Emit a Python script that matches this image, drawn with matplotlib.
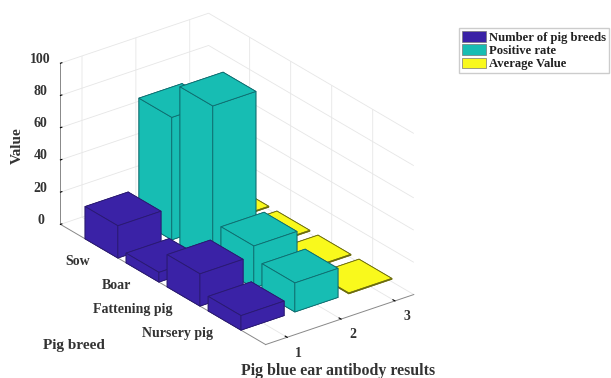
import numpy as np
import matplotlib
matplotlib.use("Agg")
import matplotlib.pyplot as plt
from matplotlib.patches import Patch

breeds = ["Sow", "Boar", "Fattening pig", "Nursery pig"]
series_names = ["Number of pig breeds", "Positive rate", "Average Value"]
pig_breeds = [20, 6, 20, 9]
positive_rate = [76, 98, 26, 18]
average_value = [0.5, 0.5, 0.5, 0.5]
z_ticks = [0, 20, 40, 60, 80, 100]
colors = ["#3A22A6", "#17BDB3", "#F9F91C"]
edges = ["#2a1a70", "#0f6b6e", "#6b6b10"]

plt.rcParams["font.family"] = ["Liberation Serif", "DejaVu Serif"]
plt.rcParams["font.weight"] = "bold"

W, H = 611, 378
fig = plt.figure(figsize=(W / 100, H / 100), dpi=100)

# axes square centred on the box centre in the picture
S = 378
cx, cy = 232, 184
ax = fig.add_axes([(cx - S / 2) / W, 1 - (cy + S / 2) / H, S / W, S / H],
                  projection="3d", proj_type="ortho", computed_zorder=False)
ax.view_init(elev=26.4, azim=-127.2)
ax.set_box_aspect((185.8, 339, 179.7), zoom=1.096)

width = 0.8
order = 0
columns = [pig_breeds, positive_rate, average_value]
for col in [2, 1, 0]:
    for row, val in enumerate(columns[col]):
        ax.bar3d(col + 1 - width / 2, row + 1 - width / 2, 0, width, width, val,
                 color=colors[col], edgecolor=edges[col], linewidth=0.6,
                 shade=False, zorder=order)
        order += 1

ax.set_xlim(0.6, 3.35, view_margin=0)
ax.set_ylim(5, 0, view_margin=0)
ax.set_zlim(0, 100, view_margin=0)
ax.set_xticks([1, 2, 3])
ax.set_yticks([1, 2, 3, 4])
ax.set_zticks(z_ticks)
ax.set_yticklabels(breeds, ha="right", va="baseline")
ax.set_xticklabels(["1", "2", "3"], va="center")
ax.set_zticklabels([str(v) for v in z_ticks], va="center")
ax.tick_params(axis="both", labelsize=10, labelcolor="#333333", pad=0)
ax.tick_params(axis="y", pad=3)

for axis in [ax.xaxis, ax.yaxis, ax.zaxis]:
    axis.set_pane_color((1, 1, 1, 0))
    axis.pane.set_edgecolor("#e4e4e4")
    axis.line.set_color("#888888")
    axis.line.set_linewidth(0.7)
    axis._axinfo["grid"].update(color="#e6e6e6", linewidth=0.6)
    axis._axinfo["tick"].update(color="#888888", inward_factor=0, outward_factor=0.12)

fig.text(17 / W, 1 - 146 / H, "Value", rotation=90, ha="center", va="center",
         fontsize=11, color="#333333")
fig.text(74 / W, 1 - 345 / H, "Pig breed", ha="center", va="center",
         fontsize=11, color="#333333")
fig.text(338 / W, 1 - 371 / H, "Pig blue ear antibody results", ha="center",
         va="center", fontsize=11.4, color="#333333")

handles = [Patch(facecolor=c, edgecolor="#777777", linewidth=0.5) for c in colors]
fig.legend(handles, series_names, loc="upper left",
           bbox_to_anchor=(459 / W, 1 - 28 / H), borderaxespad=0, fontsize=9.1,
           fancybox=False, edgecolor="#cccccc", framealpha=1, labelspacing=0.05,
           handlelength=1.9, handleheight=0.9, handletextpad=0.2,
           borderpad=0.25, labelcolor="#222222")

fig.savefig("out.png", dpi=100)
